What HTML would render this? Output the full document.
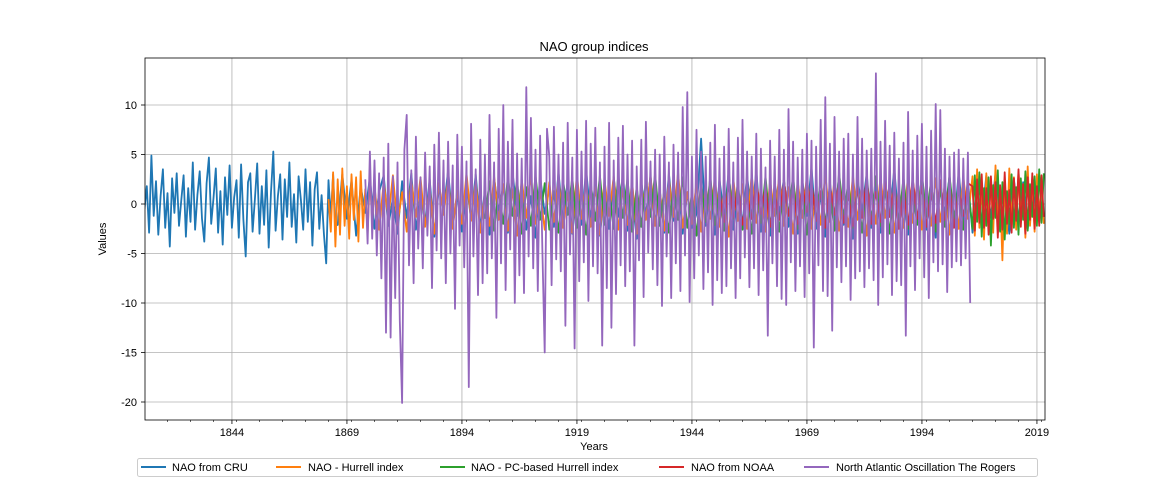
<!DOCTYPE html>
<html><head><meta charset="utf-8"><style>
body{margin:0;background:#fff;}
svg{display:block;font-family:"Liberation Sans","DejaVu Sans",sans-serif;}
</style></head><body>
<svg id="chart" width="1160" height="480" viewBox="0 0 1160 480">
<defs><clipPath id="plotclip"><rect x="145" y="58" width="900" height="362"/></clipPath></defs>
<rect x="0" y="0" width="1160" height="480" fill="#fff"/>
<g id="grid"></g>
<g id="series" clip-path="url(#plotclip)"></g>
<rect x="145" y="58" width="900" height="362" fill="none" stroke="#000" stroke-width="0.8"/>
<g id="axes"></g>
<text x="594" y="51" text-anchor="middle" font-size="13">NAO group indices</text>
<text x="594" y="450" text-anchor="middle" font-size="11">Years</text>
<text x="106" y="239" text-anchor="middle" font-size="11" transform="rotate(-90 106 239)">Values</text>
<g id="legend">
<rect x="137.5" y="458.5" width="900" height="18" rx="2" fill="#fff" stroke="#ccc"/>
<g><line x1="141" y1="467" x2="166" y2="467" stroke="#1f77b4" stroke-width="2"/><text x="172" y="471" font-size="11">NAO from CRU</text></g>
<g><line x1="276" y1="467" x2="301" y2="467" stroke="#ff7f0e" stroke-width="2"/><text x="308" y="471" font-size="11">NAO - Hurrell index</text></g>
<g><line x1="440" y1="467" x2="465" y2="467" stroke="#2ca02c" stroke-width="2"/><text x="471" y="471" font-size="11">NAO - PC-based Hurrell index</text></g>
<g><line x1="659" y1="467" x2="684" y2="467" stroke="#d62728" stroke-width="2"/><text x="691" y="471" font-size="11">NAO from NOAA</text></g>
<g><line x1="804" y1="467" x2="829" y2="467" stroke="#9467bd" stroke-width="2"/><text x="836" y="471" font-size="11">North Atlantic Oscillation The Rogers</text></g>
</g>
</svg>
<script>
const xTicks = [1844, 1869, 1894, 1919, 1944, 1969, 1994, 2019];
const yTicks = [-20, -15, -10, -5, 0, 5, 10];

const cruEarlyStart = 1825, cruEarlyStep = 0.5;
const cruEarly = [-0.5,1.8,-2.9,4.9,-1.2,2.3,-3.1,0.8,3.5,-2.4,1.1,-4.3,2.6,-0.9,3.1,-2.2,0.4,2.9,-3.3,1.6,
-1.8,4.2,-2.6,0.9,3.3,-1.5,-3.8,2.1,4.7,-2.0,0.6,3.6,-2.9,1.3,-4.1,2.7,-1.1,3.9,-2.4,0.7,
2.4,-3.4,4.0,-1.6,-5.3,2.2,3.1,-2.8,0.5,4.1,-3.0,1.8,-2.1,3.4,-4.4,1.2,5.3,-2.7,0.8,3.0,
-3.6,2.5,-1.3,4.2,-2.3,1.0,-3.9,2.8,0.4,-2.6,3.5,-1.8,2.2,-4.2,1.5,3.2,-2.5,0.9,-3.0,-6.0,
2.4,-1.4,3.0,-2.2];
const cruLateStart = 1867, cruLateStep = 1;
const cruLate = [-2.1,3.0,-1.5,2.4,-3.2,1.8,-0.9,2.7,-2.5,1.2,
2.9,-2.2,0.6,-3.0,2.3,-1.4,3.1,-2.6,1.0,-1.9,
2.5,-3.3,1.7,-0.8,3.4,-2.0,0.9,-2.8,2.2,-1.6,
3.0,-2.4,1.3,-3.1,2.6,-0.7,1.9,-2.9,3.3,-1.2,
2.1,-2.6,0.8,-3.4,2.8,-1.0,1.6,-2.3,3.2,-1.8,
2.4,-3.0,1.1,-2.1,3.5,-1.5,2.0,-3.2,1.4,-2.5,
2.7,-1.3,3.0,-2.7,0.9,-3.5,2.2,-1.1,2.8,-2.0,
1.5,-2.9,3.1,-1.7,2.3,-3.0,1.2,-2.4,-1.0,6.6,
-2.2,1.9,-3.1,2.5,-1.4,3.3,-2.6,0.7,-2.0,2.9,
-1.5,3.4,-2.8,1.6,-3.2,2.1,-0.9,2.6,-2.3,1.8,
-3.0,2.4,-1.2,3.7,-2.5,1.0,-3.3,2.2,-1.6,2.9,
-2.1,1.4,-3.5,2.7,-0.8,3.1,-2.4,1.9,-2.9,2.3,
-1.3,3.6,-2.2,1.1,-3.1,2.5,-1.7,3.0,-2.6,1.5,
-3.4,2.0,-1.0,2.8,-2.3,3.2,-1.8,2.4,-2.9,1.7,
-2.0,2.9,-1.4,3.1,-2.7,1.2,-3.0,2.5,-1.6,2.2,
-2.5,1.8,-1.1];

const hurrellEarlyStart = 1865, hurrellEarlyStep = 0.5;
const hurrellEarly = [0.5,-2.8,3.2,-4.3,2.5,-3.1,3.6,-2.2,1.8,-3.5,3.0,-1.6,2.7,-3.8,3.3,-2.4,1.5,-3.0,2.9,-1.9];
const hurrellMidStart = 1875, hurrellMidStep = 1;
const hurrellMid = [1.8,-2.6,2.2,-1.5,2.9,-2.1,1.2,-2.8,2.4,-1.3,
2.7,-2.3,1.6,-3.0,2.1,-1.1,2.6,-2.5,1.4,-2.0,
3.1,-1.7,2.3,-2.9,1.0,-2.2,2.8,-1.6,2.0,-2.7,
1.5,-3.2,2.5,-1.4,2.9,-2.0,1.3,-2.6,2.2,-1.8,
2.6,-2.4,1.1,-2.9,3.0,-1.5,2.1,-2.3,1.7,-3.1,
2.4,-1.2,2.8,-2.6,1.5,-2.1,2.3,-3.0,1.9,-1.6,
2.9,-2.2,1.4,-2.7,2.5,-1.3,3.2,-2.4,1.2,-2.0,
2.2,-2.8,1.8,-1.5,2.7,-2.3,1.3,-3.3,2.6,-1.7,
2.0,-2.5,3.0,-1.9,1.6,-2.8,2.4,-1.2,2.9,-2.2,
1.7,-3.0,2.3,-1.4,2.8,-2.5,1.5,-2.1,3.1,-1.8,
2.5,-2.7,1.2,-2.3,2.9,-1.6,2.1,-3.2,1.8,-2.0,
2.7,-1.4,2.2,-2.9,1.6,-2.4,3.0,-1.9,2.4,-2.6,
1.3,-2.2,2.6,-1.8,2.1,-3.1,1.9,-2.5,2.8,-1.5];
const hurrellLateStart = 2005, hurrellLateStep = 0.5;
const hurrellLate = [2.8,-3.2,3.5,-2.4,1.9,-3.6,3.1,-1.5,2.6,-2.9,3.9,-2.1,1.4,-5.7,2.3,-3.0,3.6,-1.8,2.7,-2.6,3.3,-1.2,2.0,-3.4,3.8,-2.2,1.6,-2.8,3.0,-1.4,2.4,-2.0];

const pcMidStart = 1899, pcMidStep = 1;
const pcMid = [-1.5,2.3,-2.7,1.4,-2.0,2.8,-1.2,2.5,-3.0,1.7,
-2.2,2.9,-1.6,2.1,-2.6,1.3,-2.9,2.4,-1.1,2.7,
-2.4,1.6,-3.1,2.2,-1.7,2.9,-2.1,1.2,-2.5,3.0,
-1.4,2.6,-2.8,1.8,-2.3,2.5,-1.3,3.1,-2.2,1.5,
-2.9,2.0,-1.6,2.7,-2.4,1.1,-3.2,2.3,-1.8,2.8,
-2.1,1.7,-2.7,3.0,-1.5,2.2,-2.6,1.4,-3.0,2.5,
-1.9,2.8,-2.3,1.6,-2.8,2.4,-1.2,2.9,-2.5,1.8,
-3.1,2.1,-1.7,2.6,-2.0,1.3,-2.7,3.2,-1.4,2.3,
-2.4,1.9,-2.9,2.5,-1.6,2.8,-2.2,1.5,-3.0,2.0,
-1.8,2.7,-2.5,1.2,-2.1,3.0,-1.3,2.4,-2.8,1.6,
-2.3,2.9,-1.5,2.1,-2.6,1.8];
const pcLateStart = 2005, pcLateStep = 0.5;
const pcLate = [-2.5,2.9,-1.8,3.2,-3.3,1.6,-2.2,2.7,-4.2,1.9,-1.4,3.4,-2.8,2.2,-3.6,1.3,-2.0,3.0,-2.4,1.7,-3.1,2.6,-1.6,3.3,-2.7,2.0,-1.3,2.8,-2.2,3.5,-1.9,3.1];

const noaaMidStart = 1950, noaaMidStep = 1;
const noaaMid = [1.2,-1.8,2.0,-1.3,1.6,-2.1,0.9,-1.5,2.2,-1.0,
1.7,-2.3,1.1,-1.6,2.4,-1.2,1.5,-2.0,1.9,-0.8,
2.1,-1.7,1.3,-2.4,1.8,-1.1,2.3,-1.9,1.0,-2.2,
1.6,-1.4,2.5,-2.0,1.2,-1.8,2.2,-1.3,1.9,-2.5,
1.4,-2.1,2.6,-1.5,1.8,-2.3,1.1,-1.9,2.4,-1.6,
2.0,-2.4,1.5,-1.2,2.1];
const noaaLateStart = 2005, noaaLateStep = 0.5;
const noaaLate = [1.8,-2.7,2.5,-1.9,3.0,-2.4,1.6,-3.1,2.8,-1.5,2.2,-3.4,1.9,-2.6,3.2,-2.0,1.4,-2.9,2.6,-1.7,3.5,-2.3,2.0,-3.0,2.7,-1.6,3.1,-2.5,1.8,-2.2,2.9,-1.3];

const rogersStart = 1873, rogersStep = 0.5;
const rogers = [2.5,-4,5.3,-3.5,4.4,-5.2,3.1,-7.5,4.7,-13,6.1,-13.5,2.8,-9.5,4.2,-11.8,-20.1,5.5,9,-6.2,
3.4,-8,6.8,-4.5,2.7,-6.5,5.2,-3.2,3.8,-8.5,6,-4.7,7.2,-5.5,4.4,-8,6.3,-5,3.9,-10.6,
7,-4.2,5.8,-6.4,4.3,-18.5,8.1,-5.3,3.5,-9.2,6.5,-8,5,-7,9,-5.5,4.2,-11.5,7.6,-6,
10,-8.7,6.3,-4.6,8.5,-10,5.1,-7.2,4.6,-9,11.8,-5.3,8.7,-6.5,5.5,-8.8,6.9,-4.8,-15,7.6,
4.8,-8.2,7.8,-5.6,5,-6.8,6.2,-12.3,8.2,-5.1,4.7,-14.6,7.5,-7.8,5.3,-5.9,8.4,-9.8,6.1,-6.3,
7.7,-7,4.2,-14.3,5.8,-8.5,8.2,-12.5,4.4,-9.1,6.7,-6.2,7.9,-8.3,5,-6.8,6.4,-14.3,3.8,-5.7,
6.5,-9.4,8.3,-4.9,4.3,-6.6,5.5,-8.2,5,-10.3,6.8,-5.3,4.2,-9.5,6,-6,5.2,-8.8,9.8,-5.2,
11.3,-9.9,4.8,-7.5,7.5,-5.2,5.3,-8.6,4.8,-6.9,6.2,-10.2,8,-7.7,4.6,-9,5.8,-8.3,7.6,-6.5,
4.2,-9.5,6.7,-7.5,8.5,-5.4,5.3,-8.4,4.8,-6.5,7.1,-9.2,5.6,-6.7,3.7,-13.3,6.4,-6,4.8,-8.3,
7.5,-9.6,5.5,-10.2,9.6,-5.9,6.3,-8.8,4.7,-6.3,5.5,-9.4,7.1,-7,6.4,-14.5,5.8,-6.2,8.5,-8.8,
10.8,-9.3,6.1,-12.8,8.8,-6.4,5.3,-7.9,6.6,-6.3,7.1,-9.7,5,-7.5,8.8,-6.8,6.6,-8.4,5.4,-6.5,
5.6,-7.7,13.2,-10.2,6.3,-7.4,8.4,-6.1,5.9,-9.2,7.2,-7.8,4.6,-8.2,6.2,-13.3,9.3,-6.3,5.4,-8.7,
6.9,-5.5,8.1,-7.4,5.8,-9.5,7.4,-5.9,10.1,-6.8,9.5,-6.1,5.6,-8.9,4.8,-6.4,5.2,-5.8,5.5,-6.2,
4.6,-5.5,5.2,-10];

function xScale(yr){ return 145 + (yr - 1825.1) * 4.6; }
function yScale(v){ return 204 - v * 9.9; }
const NS = 'http://www.w3.org/2000/svg';
const grid = document.getElementById('grid');
const axes = document.getElementById('axes');
const series = document.getElementById('series');

xTicks.forEach(function(t){
  const x = xScale(t);
  const g = document.createElementNS(NS,'line');
  g.setAttribute('x1',x);g.setAttribute('x2',x);g.setAttribute('y1',58);g.setAttribute('y2',420);
  g.setAttribute('stroke','#b0b0b0');g.setAttribute('stroke-width','0.8');
  
  
  grid.appendChild(g);
  const tk = document.createElementNS(NS,'line');
  tk.setAttribute('x1',x);tk.setAttribute('x2',x);tk.setAttribute('y1',420);tk.setAttribute('y2',424);
  tk.setAttribute('stroke','#000');tk.setAttribute('stroke-width','0.8');
  
  
  axes.appendChild(tk);
  const lb = document.createElementNS(NS,'text');
  lb.setAttribute('x',x);lb.setAttribute('y',436);lb.setAttribute('text-anchor','middle');lb.setAttribute('font-size','11');
  lb.textContent = t;
  
  
  axes.appendChild(lb);
});
for (let yr = 1830; yr <= 2020; yr += 5){
  if (xTicks.indexOf(yr) >= 0) continue;
  const x = xScale(yr);
  const m = document.createElementNS(NS,'line');
  m.setAttribute('x1',x);m.setAttribute('x2',x);m.setAttribute('y1',420);m.setAttribute('y2',422);
  m.setAttribute('stroke','#000');m.setAttribute('stroke-width','0.6');
  
  
  axes.appendChild(m);
}
yTicks.forEach(function(t){
  const y = yScale(t);
  const g = document.createElementNS(NS,'line');
  g.setAttribute('x1',145);g.setAttribute('x2',1045);g.setAttribute('y1',y);g.setAttribute('y2',y);
  g.setAttribute('stroke','#b0b0b0');g.setAttribute('stroke-width','0.8');
  
  
  grid.appendChild(g);
  const tk = document.createElementNS(NS,'line');
  tk.setAttribute('x1',141);tk.setAttribute('x2',145);tk.setAttribute('y1',y);tk.setAttribute('y2',y);
  tk.setAttribute('stroke','#000');tk.setAttribute('stroke-width','0.8');
  
  
  axes.appendChild(tk);
  const lb = document.createElementNS(NS,'text');
  lb.setAttribute('x',137);lb.setAttribute('y',y+4);lb.setAttribute('text-anchor','end');lb.setAttribute('font-size','11');
  lb.textContent = t;
  
  
  axes.appendChild(lb);
});

function drawSeries(segments, color, name){
  const pts = [];
  segments.forEach(function(s){
    s.vals.forEach(function(v,i){ pts.push(xScale(s.start + i*s.step).toFixed(1)+','+yScale(v).toFixed(1)); });
  });
  const p = document.createElementNS(NS,'polyline');
  p.setAttribute('points', pts.join(' '));
  p.setAttribute('fill','none');p.setAttribute('stroke',color);p.setAttribute('stroke-width','1.8');
  p.setAttribute('stroke-linejoin','round');
  
  
  series.appendChild(p);
}
drawSeries([{start:cruEarlyStart,step:cruEarlyStep,vals:cruEarly},{start:cruLateStart,step:cruLateStep,vals:cruLate}], '#1f77b4', 'cru-line');
drawSeries([{start:hurrellEarlyStart,step:hurrellEarlyStep,vals:hurrellEarly},{start:hurrellMidStart,step:hurrellMidStep,vals:hurrellMid},{start:hurrellLateStart,step:hurrellLateStep,vals:hurrellLate}], '#ff7f0e', 'hurrell-line');
drawSeries([{start:pcMidStart,step:pcMidStep,vals:pcMid},{start:pcLateStart,step:pcLateStep,vals:pcLate}], '#2ca02c', 'pc-hurrell-line');
drawSeries([{start:noaaMidStart,step:noaaMidStep,vals:noaaMid},{start:noaaLateStart,step:noaaLateStep,vals:noaaLate}], '#d62728', 'noaa-line');
drawSeries([{start:rogersStart,step:rogersStep,vals:rogers}], '#9467bd', 'rogers-line');
</script>
</body></html>
